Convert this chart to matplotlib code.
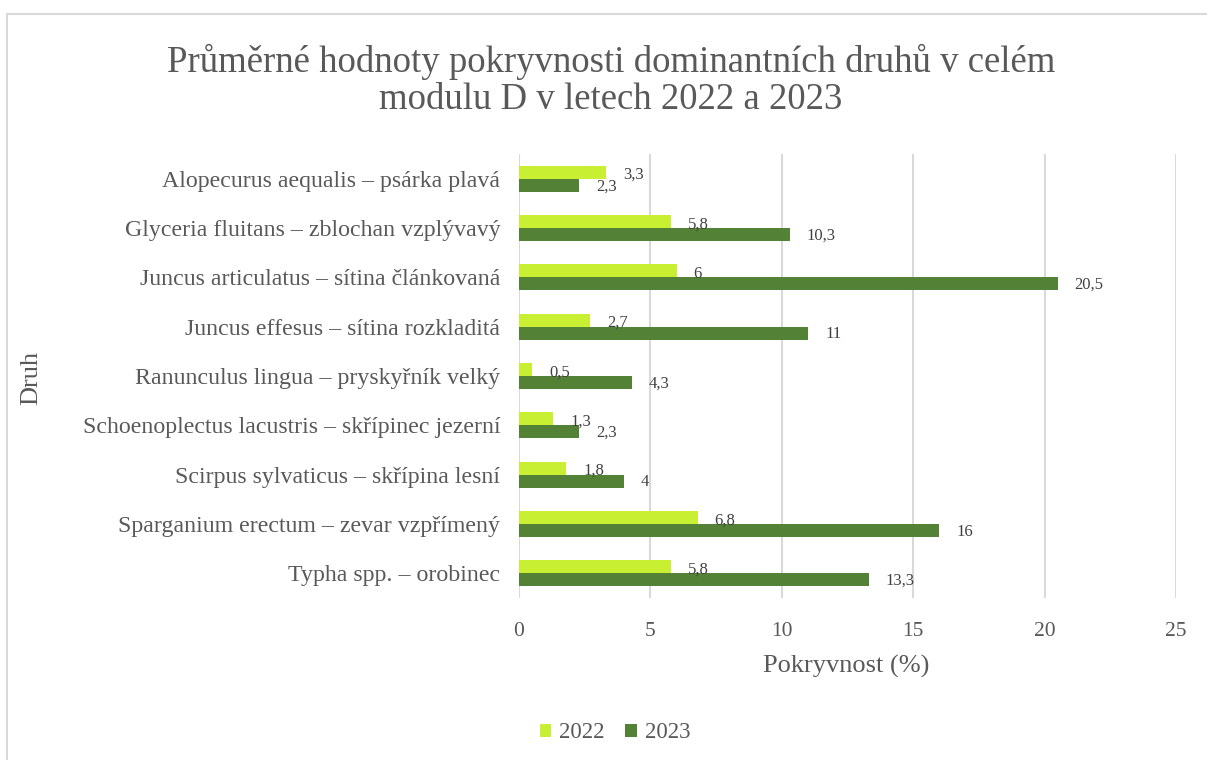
import matplotlib.pyplot as plt
import matplotlib.patches as patches
import numpy as np

species = [
    "Alopecurus aequalis – psárka plavá",
    "Glyceria fluitans – zblochan vzplývavý",
    "Juncus articulatus – sítina článkovaná",
    "Juncus effesus – sítina rozkladitá",
    "Ranunculus lingua – pryskyřník velký",
    "Schoenoplectus lacustris – skřípinec jezerní",
    "Scirpus sylvaticus – skřípina lesní",
    "Sparganium erectum – zevar vzpřímený",
    "Typha spp. – orobinec",
]
vals_2022 = [3.3, 5.8, 6, 2.7, 0.5, 1.3, 1.8, 6.8, 5.8]
vals_2023 = [2.3, 10.3, 20.5, 11, 4.3, 2.3, 4, 16, 13.3]
xticks = [0, 5, 10, 15, 20, 25]

c22 = "#C9EF32"
c23 = "#538135"
txt = "#595959"

plt.rcParams['font.family'] = ['Liberation Serif', 'DejaVu Serif']

W, H = 1207, 760
fig = plt.figure(figsize=(W / 100, H / 100), dpi=100)
# chart border
fig.patches.append(patches.Rectangle((7 / W, -0.01), 1.02, 1 - 14 / H + 0.01,
                                     transform=fig.transFigure, fill=False,
                                     edgecolor="#D9D9D9", linewidth=1.5))

ax = fig.add_axes([519 / W, 1 - 598 / H, (1176 - 519) / W, (598 - 154) / H])

y = np.arange(len(species))
h = 0.265
ax.barh(y - h / 2, vals_2022, height=h, color=c22, label="2022", zorder=3)
ax.barh(y + h / 2, vals_2023, height=h, color=c23, label="2023", zorder=3)

def fmt(v):
    return ("%g" % v).replace(".", ",")

for yi, v in zip(y, vals_2022):
    ax.annotate(fmt(v), (v, yi - h / 2), xytext=(17, -3), textcoords="offset pixels",
                ha="left", va="center", fontsize=12, color="#404040", zorder=4)
for yi, v in zip(y, vals_2023):
    ax.annotate(fmt(v), (v, yi + h / 2), xytext=(17, -1), textcoords="offset pixels",
                ha="left", va="center", fontsize=12, color="#404040", zorder=4)

ax.set_xlim(0, 25)
ax.set_ylim(len(species) - 0.5, -0.5)
ax.set_xticks(xticks)
ax.set_xticklabels([str(t) for t in xticks])
ax.set_yticks(y)
ax.set_yticklabels(species)
ax.tick_params(axis="both", length=0, labelcolor=txt)
ax.tick_params(axis="x", pad=17, labelsize=15.5)
ax.tick_params(axis="y", pad=13.5, labelsize=17.2)
ax.grid(axis="x", color="#D9D9D9", linewidth=1.5, zorder=0)
for s in ax.spines.values():
    s.set_visible(False)

fig.text(846 / W, 1 - 666 / H, "Pokryvnost (%)", fontsize=19, color=txt,
         ha="center", va="center")
fig.text(31 / W, 1 - 378 / H, "Druh", rotation=90, fontsize=19, color=txt,
         ha="center", va="center")

fig.text(611 / W, 1 - 62 / H,
         "Průměrné hodnoty pokryvnosti dominantních druhů v celém",
         ha="center", va="center", fontsize=26.5, color=txt)
fig.text(611 / W, 1 - 100 / H, "modulu D v letech 2022 a 2023",
         ha="center", va="center", fontsize=26.5, color=txt)

fig.legend(loc="center", bbox_to_anchor=(615 / W, 1 - 733 / H), ncol=2,
           frameon=False, fontsize=16.5, labelcolor=txt, handlelength=0.5,
           handleheight=0.5, columnspacing=0.9, handletextpad=0.35)

fig.savefig("out.png", dpi=100)
